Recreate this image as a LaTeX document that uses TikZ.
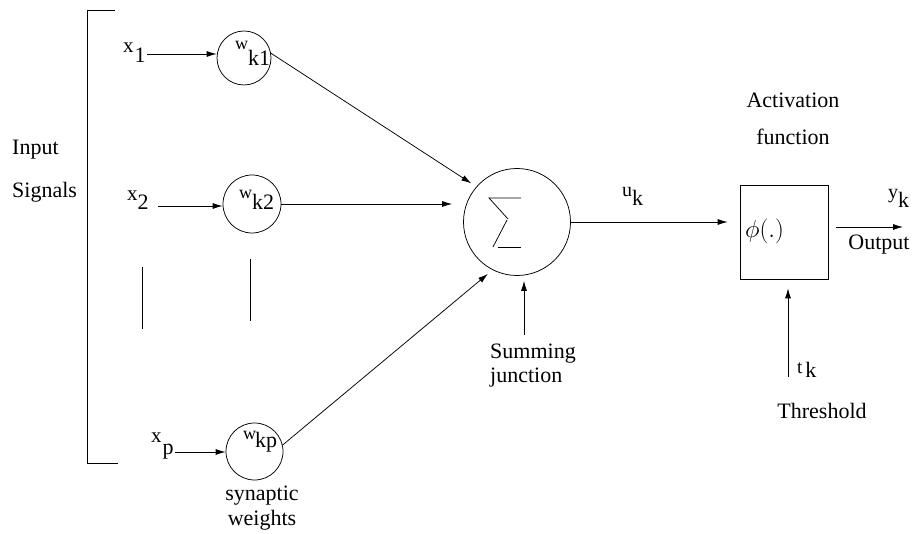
\documentclass[tikz,border=0pt]{standalone}
\usepackage{fontspec}
\setmainfont{Liberation Serif}
\usetikzlibrary{arrows.meta}
% letter in its own size, followed by a lowered index in the running size
\newcommand\lsub[4]{{\fontsize{#1}{#1}\selectfont #2}\raisebox{-#3pt}{#4}}
\begin{document}
\begin{tikzpicture}[x=1pt,y=-1pt,
  every node/.style={font=\fontsize{22}{26}\selectfont, inner sep=0pt},
  line/.style={line width=0.75pt},
  arr/.style={line width=0.75pt, -{Latex[length=10pt,width=6pt]}},
  weight/.style={circle, draw, line width=0.75pt, minimum size=#1}]
\useasboundingbox (0,0) rectangle (913,534);

% input bracket and its label (base anchor = last line)
\draw[line] (115,10) -- (87,10) -- (87,463) -- (118,463);
\node[anchor=base west, align=left, font=\fontsize{22}{43}\selectfont] (insig) at (12,198) {Input\\Signals};

% synaptic weights
\node[weight=54pt] (w1) at (244,58) {};
\node[weight=58pt] (w2) at (252,204) {};
\node[weight=57pt] (wp) at (254.5,451.5) {};
\node[anchor=base west] (w1l) at (235,50) {\lsub{18}{w}{16}{k1}};
\node[anchor=base west] (w2l) at (239,199) {\lsub{18}{w}{11}{k2}};
\node[anchor=base west] (wpl) at (243,439) {\lsub{18}{w}{8}{\kern-1pt kp}};
\node[align=center, anchor=base, font=\fontsize{22}{25}\selectfont] (syn) at (262,525) {synaptic\\weights};

% inputs
\node[anchor=base west] (x1) at (123,53) {\lsub{21}{x}{10}{\kern1pt 1}};
\node[anchor=base west] (x2) at (127,200.5) {\lsub{21}{x}{9.5}{2}};
\node[anchor=base west] (xp) at (151,442.7) {\lsub{21}{x}{12}{\kern1pt p}};
\coordinate (s1) at (147,54);
\coordinate (s2) at (158,206);
\coordinate (sp) at (175,452);
\draw[arr] (s1) -- (s1 -| w1.west);
\draw[arr] (s2) -- (s2 -| w2.west);
\draw[arr] (sp) -- (sp -| wp.west);

% elided inputs
\draw[line] (142,267) -- (142,329);
\draw[line] (250,259) -- (250,321);

% summing junction
\node[weight=107pt] (sum) at (517,222) {};
\draw[line] ([shift={(4,-24)}]sum.center) -- ([shift={(-28,-24)}]sum.center) -- ([shift={(-9,-3)}]sum.center);
\draw[line] ([shift={(-10,-2)}]sum.center) -- ([shift={(-24,25)}]sum.center);
\draw[line] ([shift={(-19,25)}]sum.center) -- ([shift={(4,25)}]sum.center);
\node[anchor=base west, align=left, font=\fontsize{22}{24}\selectfont] (sumlab) at (490,383) {Summing\\junction};

\draw[arr, shorten >=6pt] (w1.10) -- (sum.139);
\draw[arr, shorten >=11pt] (w2.east) -- (w2.east -| sum.west);
\draw[arr, shorten >=6pt] (wp.13) -- (sum.243);
\coordinate (sj) at (524,335);
\draw[arr, shorten >=5pt] (sj) -- (sj |- sum.south);

% activation function
\node[draw, line width=0.75pt, minimum width=88pt, minimum height=94pt] (act) at (784,232) {};
\node[anchor=base west] (phi) at (745,238) {\fontsize{24}{24}\selectfont$\phi(.)$};
\node[anchor=base, align=center, font=\fontsize{22}{37}\selectfont] (actlab) at (793,145) {Activation\\function};
\node[anchor=base west] (uk) at (622,197) {\lsub{20}{u}{9}{k}};
\draw[arr, shorten >=12pt] (sum.east) -- (sum.east -| act.west);

% threshold
\coordinate (th) at (788,377);
\draw[arr, shorten >=9pt] (th) -- (th |- act.south);
\node[anchor=base west] (tk) at (797,374) {\lsub{19}{t}{4}{\kern3pt k}};
\node[anchor=base] (thr) at (822,419) {Threshold};

% output
\coordinate (yout) at (903,227);
\draw[arr, shorten <=8pt] (act.east |- yout) -- (yout);
\node[anchor=base west] (yk) at (888,199) {\lsub{20}{y}{9}{k}};
\node[anchor=base] (outlab) at (879,250) {Output};
\end{tikzpicture}
\end{document}
